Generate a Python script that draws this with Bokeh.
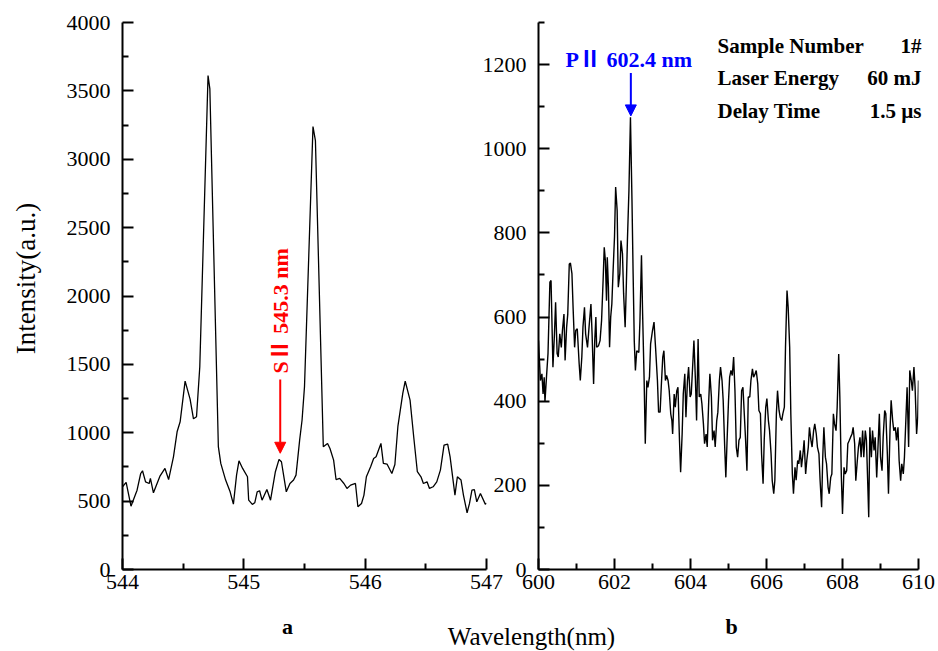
import math
from bokeh.plotting import figure
from bokeh.models import Range1d, FixedTicker, Label, Arrow, NormalHead
from bokeh.layouts import row, column
from bokeh.embed import file_html
from bokeh.resources import INLINE

# ---------------- data: panel a (S II region) ----------------
a_wavelength = [
    544.00, 544.03, 544.07, 544.12, 544.15, 544.165, 544.19, 544.22, 544.23, 544.255,
    544.31, 544.35, 544.38, 544.42, 544.45, 544.475, 544.516, 544.557, 544.585, 544.61,
    544.637, 544.705, 544.72, 544.79, 544.81, 544.85, 544.887, 544.914, 544.94, 544.96,
    544.99, 545.03, 545.04, 545.07, 545.09, 545.11, 545.13, 545.15, 545.19, 545.22,
    545.26, 545.29, 545.31, 545.33, 545.35, 545.38, 545.41, 545.43, 545.46, 545.48,
    545.50, 545.57, 545.59, 545.655, 545.69, 545.71, 545.74, 545.76, 545.79, 545.825,
    545.85, 545.88, 545.92, 545.94, 545.97, 545.99, 546.01, 546.045, 546.07, 546.09,
    546.13, 546.15, 546.18, 546.22, 546.245, 546.27, 546.31, 546.33, 546.37, 546.40,
    546.43, 546.46, 546.48, 546.51, 546.53, 546.56, 546.59, 546.62, 546.65, 546.68,
    546.70, 546.74, 546.76, 546.79, 546.81, 546.84, 546.86, 546.88, 546.90, 546.92,
    546.95, 546.99, 547.00,
]
a_intensity = [
    605, 637, 463, 580, 702, 722, 641, 629, 666, 561,
    685, 739, 658, 824, 1007, 1080, 1378, 1246, 1102, 1117,
    1483, 3612, 3514, 898, 776, 654, 568, 478, 690, 795,
    739, 678, 507, 476, 488, 568, 576, 507, 585, 507,
    715, 805, 788, 678, 568, 629, 654, 690, 946, 1093,
    1337, 3239, 3137, 898, 922, 885, 800, 658, 666, 629,
    593, 617, 629, 459, 483, 544, 678, 751, 812, 824,
    922, 776, 771, 702, 768, 1049, 1288, 1378, 1239, 971,
    715, 678, 629, 641, 593, 605, 641, 727, 910, 917,
    824, 544, 678, 654, 544, 415, 483, 580, 585, 495,
    556, 478, 485,
]

# ---------------- data: panel b (P II region) ----------------
b_wavelength = [
    600.00, 600.05, 600.09, 600.12, 600.15, 600.17, 600.21, 600.25, 600.30, 600.33,
    600.38, 600.42, 600.45, 600.49, 600.52, 600.56, 600.60, 600.63, 600.67, 600.70,
    600.74, 600.77, 600.81, 600.84, 600.88, 600.91, 600.95, 600.98, 601.02, 601.07,
    601.10, 601.14, 601.17, 601.21, 601.24, 601.29, 601.33, 601.38, 601.41, 601.45,
    601.48, 601.51, 601.53, 601.58, 601.62, 601.66, 601.70, 601.73, 601.76, 601.79,
    601.81, 601.84, 601.87, 601.90, 601.93, 601.96, 602.00, 602.03, 602.07, 602.10,
    602.14, 602.17, 602.21, 602.24, 602.28, 602.31, 602.34, 602.38, 602.42, 602.46,
    602.49, 602.52, 602.55, 602.585, 602.64, 602.67, 602.71, 602.74, 602.78, 602.81,
    602.85, 602.88, 602.92, 602.95, 603.00, 603.04, 603.08, 603.13, 603.16, 603.20,
    603.23, 603.27, 603.30, 603.34, 603.37, 603.41, 603.44, 603.48, 603.51, 603.53,
    603.57, 603.60, 603.64, 603.67, 603.71, 603.74, 603.78, 603.81, 603.85, 603.88,
    603.92, 603.95, 603.99, 604.02, 604.06, 604.09, 604.13, 604.16, 604.20, 604.23,
    604.27, 604.30, 604.34, 604.37, 604.41, 604.44, 604.48, 604.51, 604.55, 604.58,
    604.62, 604.65, 604.69, 604.72, 604.76, 604.79, 604.83, 604.86, 604.90, 604.93,
    604.96, 605.00, 605.03, 605.065, 605.10, 605.135, 605.17, 605.205, 605.24, 605.275,
    605.31, 605.345, 605.38, 605.415, 605.45, 605.485, 605.52, 605.56, 605.59, 605.63,
    605.66, 605.70, 605.73, 605.77, 605.80, 605.84, 605.87, 605.91, 605.94, 605.98,
    606.01, 606.05, 606.08, 606.12, 606.15, 606.19, 606.22, 606.26, 606.29, 606.33,
    606.36, 606.40, 606.43, 606.47, 606.50, 606.54, 606.57, 606.61, 606.64, 606.68,
    606.71, 606.75, 606.78, 606.82, 606.85, 606.89, 606.92, 606.96, 606.99, 607.03,
    607.06, 607.10, 607.13, 607.17, 607.20, 607.24, 607.27, 607.31, 607.34, 607.38,
    607.41, 607.45, 607.48, 607.51, 607.55, 607.58, 607.62, 607.65, 607.69, 607.72,
    607.76, 607.79, 607.83, 607.86, 607.90, 607.93, 607.97, 608.00, 608.04, 608.07,
    608.11, 608.14, 608.18, 608.21, 608.25, 608.28, 608.32, 608.35, 608.39, 608.42,
    608.46, 608.49, 608.53, 608.56, 608.60, 608.63, 608.67, 608.69, 608.72, 608.76,
    608.79, 608.83, 608.86, 608.90, 608.93, 608.97, 609.00, 609.04, 609.07, 609.11,
    609.14, 609.18, 609.21, 609.25, 609.28, 609.32, 609.35, 609.39, 609.42, 609.46,
    609.49, 609.53, 609.56, 609.60, 609.63, 609.67, 609.70, 609.74, 609.77, 609.81,
    609.84, 609.88, 609.91, 609.95, 609.98, 610.00,
]
b_intensity = [
    544, 449, 465, 417, 457, 398, 457, 513, 683, 687,
    481, 560, 635, 513, 505, 560, 528, 568, 607, 497,
    576, 607, 726, 728, 703, 623, 528, 568, 572, 489,
    449, 505, 576, 623, 560, 528, 576, 631, 560, 441,
    544, 600, 528, 532, 544, 592, 687, 766, 734, 639,
    742, 671, 528, 600, 631, 703, 790, 909, 853, 671,
    703, 782, 750, 655, 576, 671, 782, 901, 1075, 877,
    703, 544, 473, 520, 516, 592, 747, 608, 449, 299,
    449, 433, 457, 536, 568, 588, 528, 449, 374, 374,
    433, 505, 520, 449, 461, 449, 425, 370, 354, 322,
    417, 386, 425, 433, 307, 231, 322, 417, 465, 362,
    449, 481, 410, 417, 489, 544, 449, 354, 548, 410,
    417, 394, 346, 299, 322, 291, 402, 465, 410, 307,
    330, 291, 354, 374, 449, 481, 449, 402, 291, 219,
    300, 400, 457, 473, 461, 505, 425, 291, 267, 307,
    314, 425, 433, 370, 307, 235, 410, 410, 449, 477,
    457, 465, 473, 441, 378, 370, 275, 204, 307, 386,
    406, 354, 330, 275, 212, 180, 212, 370, 425, 378,
    362, 354, 370, 386, 528, 663, 623, 528, 370, 227,
    180, 243, 212, 259, 251, 283, 243, 275, 307, 227,
    259, 291, 338, 307, 291, 330, 346, 322, 291, 275,
    212, 148, 267, 338, 267, 251, 196, 180, 219, 227,
    370, 346, 330, 386, 512, 410, 219, 132, 243, 227,
    235, 299, 307, 314, 322, 338, 299, 211, 259, 291,
    314, 267, 330, 267, 330, 307, 188, 124, 338, 267,
    330, 283, 314, 219, 283, 370, 267, 235, 314, 378,
    370, 275, 180, 330, 402, 354, 330, 338, 307, 338,
    259, 211, 251, 227, 267, 362, 433, 291, 473, 449,
    425, 481, 433, 322, 362, 449,
]

# ---------------- ticks & texts ----------------
a_xticks = [544, 545, 546, 547]
a_xminor = [544.5, 545.5, 546.5]
a_yticks = [0, 500, 1000, 1500, 2000, 2500, 3000, 3500, 4000]
a_yminor = [250, 750, 1250, 1750, 2250, 2750, 3250, 3750]
b_xticks = [600, 602, 604, 606, 608, 610]
b_xminor = [601, 603, 605, 607, 609]
b_yticks = [0, 200, 400, 600, 800, 1000, 1200]
b_yminor = [100, 300, 500, 700, 900, 1100, 1300]

s_line_label = "SⅡ 545.3 nm"
s_line_wl = 545.3
p_line_label = "PⅡ 602.4 nm"
p_line_wl = 602.43
info_names = ["Sample Number", "Laser Energy", "Delay Time"]
info_values = ["1#", "60 mJ", "1.5 µs"]
y_title = "Intensity(a.u.)"
x_title = "Wavelength(nm)"
panel_names = ["a", "b"]

SERIF = "'Liberation Serif', 'Noto Sans CJK SC', serif"


def style_axes(p):
    p.grid.visible = False
    p.outline_line_color = None
    for ax in (p.xaxis[0], p.yaxis[0]):
        ax.axis_line_width = 2
        ax.axis_line_color = "black"
        ax.major_tick_in = 11
        ax.major_tick_out = 0
        ax.minor_tick_in = 6
        ax.minor_tick_out = 0
        ax.major_tick_line_width = 2
        ax.minor_tick_line_width = 2
        ax.major_tick_line_color = "black"
        ax.minor_tick_line_color = "black"
        ax.major_label_text_font = SERIF
        ax.major_label_text_font_size = "22px"
        ax.major_label_text_color = "black"
    p.xaxis[0].major_label_standoff = 5
    p.yaxis[0].major_label_standoff = 12


# ---------------- panel a ----------------
pa = figure(width=625, height=651, x_range=Range1d(544, 547), y_range=Range1d(0, 4000),
            output_backend="svg", toolbar_location=None,
            min_border_left=122, min_border_right=139, min_border_top=22, min_border_bottom=82)
pa.line(a_wavelength, a_intensity, line_color="black", line_width=1.3)
pa.xaxis.ticker = FixedTicker(ticks=a_xticks, minor_ticks=a_xminor)
pa.yaxis.ticker = FixedTicker(ticks=a_yticks, minor_ticks=a_yminor)
style_axes(pa)

pa.add_layout(Label(x=s_line_wl, y=1433, text=s_line_label, angle=math.pi / 2,
                    text_align="left", text_baseline="middle", text_font=SERIF,
                    text_font_size="22px", text_font_style="bold", text_color="#FF0000"))
pa.add_layout(Arrow(x_start=s_line_wl, y_start=1390, x_end=s_line_wl, y_end=850,
                    line_color="#FF0000", line_width=2,
                    end=NormalHead(size=11, fill_color="#FF0000", line_color="#FF0000")))

# ---------------- panel b ----------------
pb = figure(width=466, height=651, x_range=Range1d(600, 610), y_range=Range1d(0, 1300),
            output_backend="svg", toolbar_location=None,
            min_border_left=68, min_border_right=18, min_border_top=22, min_border_bottom=82,
            styles={"margin-left": "-155px"})
pb.border_fill_color = None
pb.background_fill_color = None
pb.line(b_wavelength, b_intensity, line_color="black", line_width=1.4)
pb.xaxis.ticker = FixedTicker(ticks=b_xticks, minor_ticks=b_xminor)
pb.yaxis.ticker = FixedTicker(ticks=b_yticks, minor_ticks=b_yminor)
style_axes(pb)

pb.add_layout(Label(x=600.71, y=1212, text=p_line_label, text_align="left", text_baseline="middle",
                    text_font=SERIF, text_font_size="22px", text_font_style="bold", text_color="#0000FF"))
pb.add_layout(Arrow(x_start=p_line_wl, y_start=1180, x_end=p_line_wl, y_end=1078,
                    line_color="#0000FF", line_width=2,
                    end=NormalHead(size=11, fill_color="#0000FF", line_color="#0000FF")))

# ---------------- transparent overlay for texts outside the plot frames ----------------
ov = figure(width=938, height=651, x_range=Range1d(0, 938), y_range=Range1d(651, 0),
            x_axis_type=None, y_axis_type=None, min_border=0,
            output_backend="svg", toolbar_location=None,
            styles={"margin-top": "-651px"})
ov.outline_line_color = None
ov.border_fill_color = None
ov.background_fill_color = None
ov.grid.visible = False

ov.add_layout(Label(x=25, y=278, text=y_title, angle=math.pi / 2, text_align="center",
                    text_baseline="middle", text_font=SERIF, text_font_size="27px",
                    text_color="black"))
ov.add_layout(Label(x=531, y=636, text=x_title, text_align="center", text_baseline="middle",
                    text_font=SERIF, text_font_size="25px", text_color="black"))
for name, xx in zip(panel_names, [287, 731]):
    ov.add_layout(Label(x=xx, y=626, text=name, text_align="center", text_baseline="middle",
                        text_font=SERIF, text_font_size="22px", text_font_style="bold",
                        text_color="black"))
for name, val, yy in zip(info_names, info_values, [45, 77, 110]):
    ov.add_layout(Label(x=717, y=yy, text=name, text_align="left", text_baseline="middle",
                        text_font=SERIF, text_font_size="21px", text_font_style="bold",
                        text_color="black"))
    ov.add_layout(Label(x=921, y=yy, text=val, text_align="right", text_baseline="middle",
                        text_font=SERIF, text_font_size="21px", text_font_style="bold",
                        text_color="black"))

layout = column(row(pa, pb), ov)
open("out.html", "w").write(file_html(layout, INLINE))
